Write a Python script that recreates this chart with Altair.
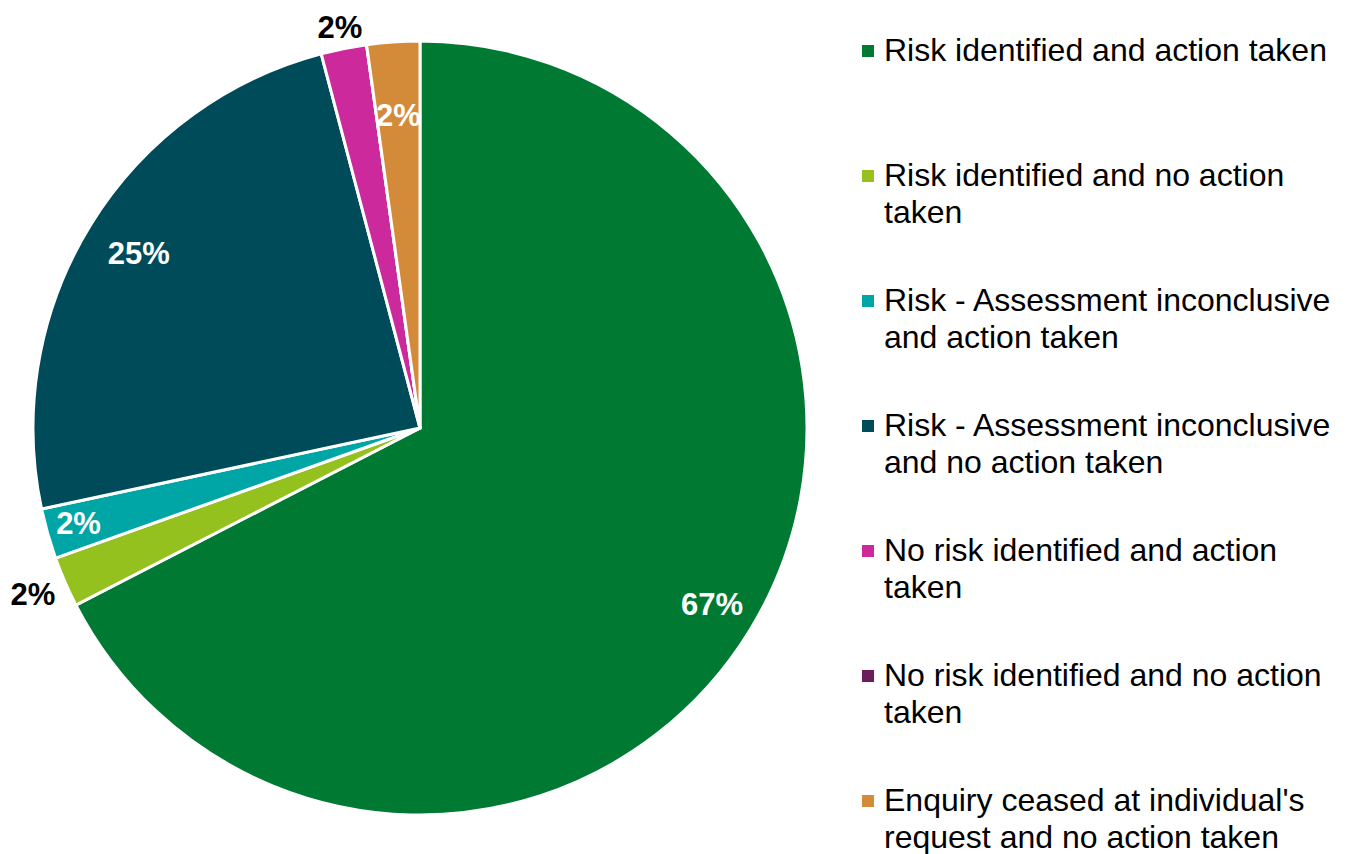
import altair as alt
import pandas as pd

categories = [
    "Risk identified and action taken",
    "Risk identified and no action taken",
    "Risk - Assessment inconclusive and action taken",
    "Risk - Assessment inconclusive and no action taken",
    "No risk identified and action taken",
    "No risk identified and no action taken",
    "Enquiry ceased at individual's request and no action taken",
]
values = [67.3, 2.1, 2.1, 24.2, 1.9, 0.0, 2.2]
pct_labels = ["67%", "2%", "2%", "25%", "2%", "", "2%"]
legend_line1 = [
    "Risk identified and action taken",
    "Risk identified and no action",
    "Risk - Assessment inconclusive",
    "Risk - Assessment inconclusive",
    "No risk identified and action",
    "No risk identified and no action",
    "Enquiry ceased at individual's",
]
legend_line2 = [
    "",
    "taken",
    "and action taken",
    "and no action taken",
    "taken",
    "taken",
    "request and no action taken",
]
colors = ["#007A33", "#95C11F", "#00A6A6", "#004B5A", "#CC2A9C", "#6C1D5E", "#D38B3A"]

FONT = "Liberation Sans, Arial, sans-serif"

df = pd.DataFrame({
    "idx": list(range(len(categories))),
    "cat": categories,
    "value": values,
    "label": pct_labels,
    "l1": legend_line1,
    "l2": legend_line2,
})

cx, cy, R = 412, 420, 387
color_scale = alt.Scale(domain=categories, range=colors)

base = alt.Chart(df)

pie = base.mark_arc(radius=R, stroke="white", strokeWidth=3).encode(
    theta=alt.Theta("value:Q", stack=True),
    color=alt.Color("cat:N", scale=color_scale, legend=None),
    order=alt.Order("idx:Q"),
    x=alt.value(cx),
    y=alt.value(cy),
)

# outside (black) labels for light green and magenta slices, others inside (white)
labels = base.transform_window(
    cum="sum(value)", sort=[alt.SortField("idx")], frame=[None, 0]
).transform_calculate(
    mid="datum.cum - datum.value / 2",
    lr="datum.idx == 0 ? 342 : datum.idx == 1 ? 422 : datum.idx == 2 ? 355 : datum.idx == 3 ? 330 : datum.idx == 4 ? 407 : 312",
).mark_text(font=FONT, fontSize=31, fontWeight="bold", align="center", baseline="middle").encode(
    theta=alt.Theta("mid:Q", stack=False),
    radius=alt.Radius("lr:Q", scale=None),
    text="label:N",
    color=alt.condition("datum.idx == 1 || datum.idx == 4", alt.value("black"), alt.value("white")),
    x=alt.value(cx),
    y=alt.value(cy),
)

yscale = alt.Scale(domain=[0, 6], range=[43, 793])

leg_sq = base.mark_square(size=144, opacity=1).encode(
    x=alt.value(860),
    y=alt.Y("idx:Q", scale=yscale, axis=None),
    color=alt.Color("cat:N", scale=color_scale, legend=None),
)

leg_t1 = base.mark_text(font=FONT, fontSize=32, align="left", baseline="middle", color="black").encode(
    x=alt.value(876),
    y=alt.Y("idx:Q", scale=yscale, axis=None),
    text="l1:N",
)
leg_t2 = base.mark_text(font=FONT, fontSize=32, align="left", baseline="middle", color="black", dy=37).encode(
    x=alt.value(876),
    y=alt.Y("idx:Q", scale=yscale, axis=None),
    text="l2:N",
)

chart = alt.layer(pie, labels, leg_sq, leg_t1, leg_t2).properties(
    width=1331, height=846, padding=0,
    autosize=alt.AutoSizeParams(type="none"),
).configure_view(stroke=None)

chart.save("out.html", embed_options={"renderer": "svg", "actions": False})
